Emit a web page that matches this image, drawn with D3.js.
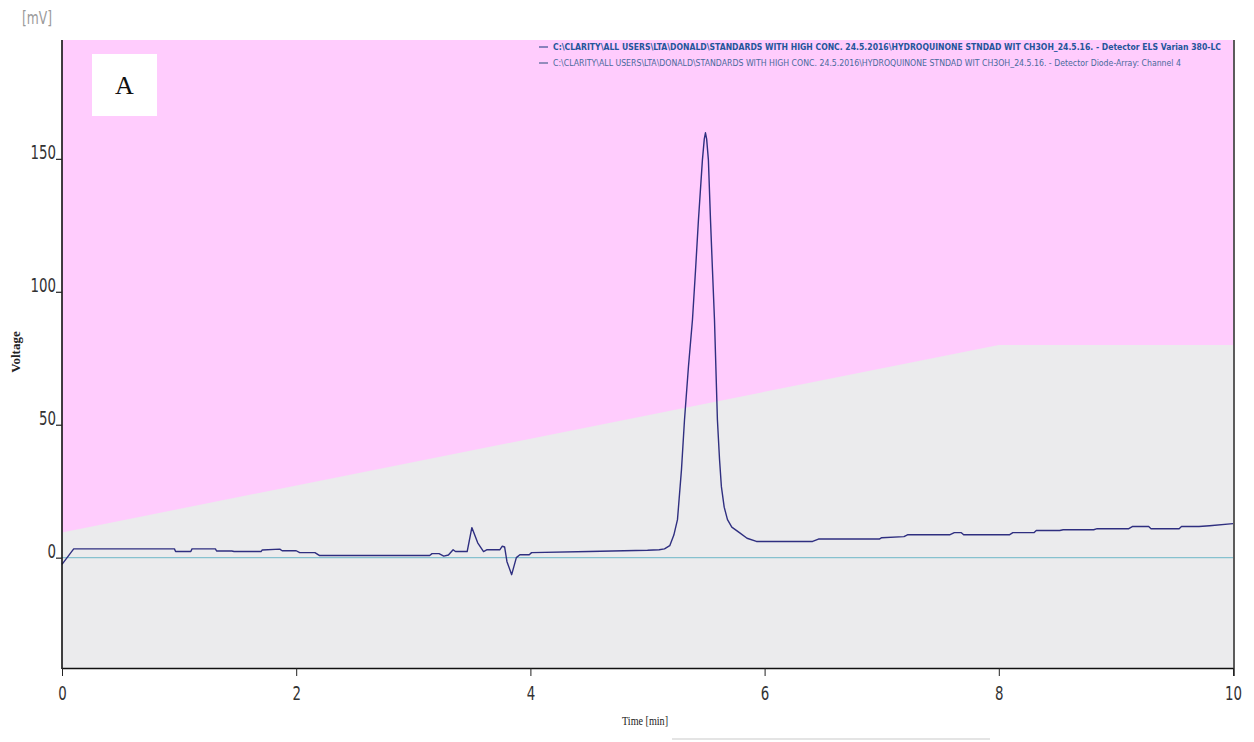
<!DOCTYPE html>
<html>
<head>
<meta charset="utf-8">
<script src="https://cdn.jsdelivr.net/npm/d3@7"></script>
<style>
  html, body { margin: 0; padding: 0; background: #ffffff; }
  svg { display: block; }
</style>
</head>
<body>
<div id="chart"></div>
<script>
// ---- data ----
const elsTime = [0.00,0.10,0.96,0.97,1.10,1.11,1.31,1.32,1.45,1.47,1.70,1.71,1.86,1.88,2.00,2.03,2.16,2.20,3.14,3.16,3.22,3.26,3.30,3.34,3.36,3.46,3.50,3.55,3.60,3.63,3.74,3.76,3.78,3.80,3.84,3.88,3.91,3.99,4.01,4.50,5.00,5.10,5.145,5.19,5.225,5.256,5.29,5.316,5.35,5.384,5.41,5.435,5.469,5.485,5.495,5.505,5.52,5.538,5.555,5.572,5.597,5.615,5.631,5.655,5.683,5.72,5.785,5.85,5.93,6.41,6.46,6.98,7.00,7.19,7.22,7.58,7.62,7.68,7.70,8.09,8.12,8.30,8.32,8.52,8.55,8.81,8.84,9.11,9.14,9.28,9.30,9.54,9.56,9.71,9.80,10.0];
const elsValue = [-2.5,3.3,3.3,2.3,2.3,3.3,3.3,2.5,2.5,2.3,2.3,2.9,3.2,2.6,2.6,1.9,1.9,0.8,0.8,1.5,1.5,0.6,1.0,3.0,2.3,2.3,11.3,5.6,2.3,3.0,3.0,4.3,4.0,-1.5,-6.4,0.0,1.1,1.1,1.9,2.3,2.8,3.0,3.3,4.5,8.5,14.3,33,51.9,72,89.5,108,127,149.6,157.5,159.8,157.5,149.6,127,108,89.5,51.9,37,26.7,19,14.3,11.5,9.4,7.3,6.1,6.1,7.0,7.0,7.5,7.9,8.6,8.6,9.4,9.4,8.6,8.6,9.4,9.4,10.2,10.2,10.5,10.5,10.9,10.9,11.7,11.7,10.9,10.9,11.7,11.7,12.0,12.8];
const diodeTime = [0, 10];
const diodeValue = [0, 0];
const gradientTime = [0, 8, 10];
const gradientValue = [9.5, 80, 80];
const xTicks = [0, 2, 4, 6, 8, 10];
const yTicks = [0, 50, 100, 150];
const legendLabels = [
  "C:\\CLARITY\\ALL USERS\\LTA\\DONALD\\STANDARDS WITH HIGH CONC. 24.5.2016\\HYDROQUINONE STNDAD WIT CH3OH_24.5.16. - Detector ELS Varian 380-LC",
  "C:\\CLARITY\\ALL USERS\\LTA\\DONALD\\STANDARDS WITH HIGH CONC. 24.5.2016\\HYDROQUINONE STNDAD WIT CH3OH_24.5.16. - Detector Diode-Array: Channel 4"
];
const panelLabel = "A";

// ---- layout ----
const W = 1254, H = 742;
const L = 62, R = 1233, T = 40, B = 668;
const tickFont = "DejaVu Sans Condensed, sans-serif";
const svg = d3.select("#chart").append("svg").attr("width", W).attr("height", H);

const x = d3.scaleLinear().domain([0, 10]).range([L, R]);
const y = d3.scaleLinear().domain([-41.5, 194.7]).range([B, T]);

// backgrounds: pink above gradient line, grey below
svg.append("rect").attr("x", L).attr("y", T).attr("width", R - L).attr("height", B - T).attr("fill", "#ffccfd");
const gradPts = gradientTime.map((t, i) => [t, gradientValue[i]]);
const areaGrey = d3.area().x(d => x(d[0])).y0(y(-41.5)).y1(d => y(d[1]));
svg.append("path").datum(gradPts).attr("d", areaGrey).attr("fill", "#ebebed");

// diode-array baseline
const diodePts = diodeTime.map((t, i) => [t, diodeValue[i]]);
const line = d3.line().x(d => x(d[0])).y(d => y(d[1]));
svg.append("path").datum(diodePts).attr("d", line).attr("fill", "none")
  .attr("stroke", "#86c1cf").attr("stroke-width", 1.3);

// ELS trace
const elsPts = elsTime.map((t, i) => [t, elsValue[i]]);
svg.append("path").datum(elsPts).attr("d", line).attr("fill", "none")
  .attr("stroke", "#2f2f80").attr("stroke-width", 1.4).attr("stroke-linejoin", "round");

// frame: left axis line, right border
svg.append("line").attr("x1", L).attr("x2", L).attr("y1", T).attr("y2", B + 1)
  .attr("stroke", "#111").attr("stroke-width", 1.6);
svg.append("line").attr("x1", R + 1).attr("x2", R + 1).attr("y1", T).attr("y2", B + 8)
  .attr("stroke", "#333").attr("stroke-width", 1.6);

// x axis
const xAxis = d3.axisBottom(x).tickValues(xTicks).tickFormat(d3.format("d")).tickSize(8).tickSizeOuter(0);
const gx = svg.append("g").attr("transform", `translate(0,${B})`).call(xAxis);
gx.select(".domain").attr("stroke", "#111").attr("stroke-width", 1.6);
gx.selectAll(".tick line").attr("stroke", "#222").attr("stroke-width", 1);
gx.selectAll(".tick text").attr("font-family", tickFont)
  .attr("font-size", 20).attr("fill", "#333").attr("dy", "0").attr("y", 32)
  .attr("textLength", d => String(d).length * 8.5).attr("lengthAdjust", "spacingAndGlyphs");

// y axis
const yAxis = d3.axisLeft(y).tickValues(yTicks).tickFormat(d3.format("d")).tickSize(6).tickSizeOuter(0);
const gy = svg.append("g").attr("transform", `translate(${L},0)`).call(yAxis);
gy.select(".domain").remove();
gy.selectAll(".tick line").attr("stroke", "#222").attr("stroke-width", 1.2);
gy.selectAll(".tick text").attr("font-family", tickFont)
  .attr("font-size", 20).attr("fill", "#333").attr("x", -6).attr("dy", "0")
  .attr("textLength", d => String(d).length * 8.5).attr("lengthAdjust", "spacingAndGlyphs");

// unit label
svg.append("text").attr("x", 22).attr("y", 24).text("[mV]")
  .attr("font-family", tickFont).attr("font-size", 17).attr("fill", "#9a9a9a")
  .attr("textLength", 30).attr("lengthAdjust", "spacingAndGlyphs");

// y title
svg.append("text").attr("transform", `translate(20,352) rotate(-90)`).attr("text-anchor", "middle")
  .attr("font-family", "Liberation Serif, serif").attr("font-size", 13).attr("font-weight", "bold")
  .attr("fill", "#222").text("Voltage");

// x title
svg.append("text").attr("x", 645).attr("y", 725).attr("text-anchor", "middle")
  .attr("font-family", "Liberation Serif, serif").attr("font-size", 13).attr("fill", "#222")
  .attr("textLength", 46).attr("lengthAdjust", "spacingAndGlyphs").text("Time [min]");
svg.append("line").attr("x1", 672).attr("x2", 990).attr("y1", 739).attr("y2", 739)
  .attr("stroke", "#e4e4e4").attr("stroke-width", 2);

// panel label box
svg.append("rect").attr("x", 92).attr("y", 54).attr("width", 65).attr("height", 62).attr("fill", "#ffffff");
svg.append("text").attr("x", 124.5).attr("y", 94).attr("text-anchor", "middle")
  .attr("font-family", "Liberation Serif, serif").attr("font-size", 26).attr("fill", "#111").text(panelLabel);

// legend
const legendText = ["#24559a", "#4a6a9c"];
const legendLen = [668, 628];
const legendY = [50, 66];
legendLabels.forEach((lab, i) => {
  svg.append("line").attr("x1", 539).attr("x2", 548).attr("y1", legendY[i] - 3).attr("y2", legendY[i] - 3)
    .attr("stroke", i === 0 ? "#4a5a9a" : "#5a6a9a").attr("stroke-width", 1.3);
  svg.append("text").attr("x", 553).attr("y", legendY[i]).text(lab)
    .attr("font-family", tickFont)
    .attr("font-size", 9).attr("font-weight", i === 0 ? "600" : "normal")
    .attr("fill", legendText[i])
    .attr("textLength", legendLen[i]).attr("lengthAdjust", "spacingAndGlyphs");
});
</script>
</body>
</html>
